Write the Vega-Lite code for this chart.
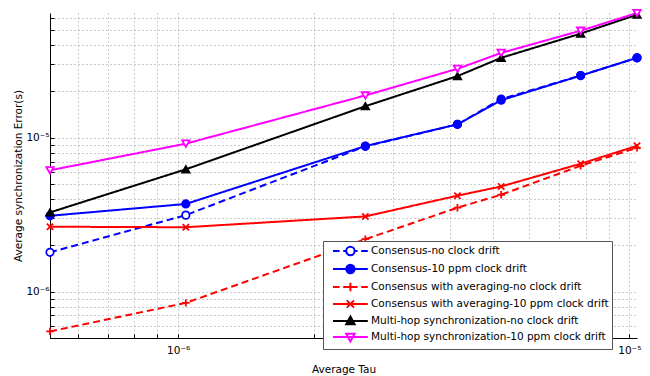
{
  "$schema": "https://vega.github.io/schema/vega-lite/v6.json",
  "width": 587,
  "height": 325,
  "autosize": "none",
  "padding": {"left": 50, "top": 13, "right": 13, "bottom": 38},
  "config": {
    "view": {"stroke": null},
    "font": "DejaVu Sans",
    "axis": {
      "domainColor": "#000000",
      "domainWidth": 1,
      "tickColor": "#000000",
      "tickSize": -4,
      "gridColor": "#999999",
      "gridDash": [1, 3],
      "gridWidth": 1,
      "labelFont": "DejaVu Sans",
      "labelFontSize": 10.5,
      "labelColor": "#000000",
      "titleFont": "DejaVu Sans",
      "titleFontSize": 10.5,
      "titleFontWeight": "normal",
      "titleColor": "#000000"
    },
    "legend": {
      "labelFont": "DejaVu Sans",
      "labelFontSize": 10.5,
      "labelColor": "#000000",
      "labelLimit": 400,
      "symbolSize": 144,
      "symbolStrokeWidth": 2,
      "labelOffset": 31,
      "padding": 3,
      "rowPadding": 0,
      "fillColor": "#ffffff",
      "strokeColor": "#555555",
      "cornerRadius": 0
    }
  },
  "data": {
    "values": [
      {"series": "Consensus-no clock drift", "tau": 5.2e-7, "error": 1.80e-6},
      {"series": "Consensus-no clock drift", "tau": 1.04e-6, "error": 3.14e-6},
      {"series": "Consensus-no clock drift", "tau": 2.6e-6, "error": 8.78e-6},
      {"series": "Consensus-no clock drift", "tau": 4.16e-6, "error": 1.22e-5},
      {"series": "Consensus-no clock drift", "tau": 5.2e-6, "error": 1.78e-5},
      {"series": "Consensus-no clock drift", "tau": 7.8e-6, "error": 2.53e-5},
      {"series": "Consensus-no clock drift", "tau": 1.04e-5, "error": 3.30e-5},
      {"series": "Consensus-10 ppm clock drift", "tau": 5.2e-7, "error": 3.11e-6},
      {"series": "Consensus-10 ppm clock drift", "tau": 1.04e-6, "error": 3.71e-6},
      {"series": "Consensus-10 ppm clock drift", "tau": 2.6e-6, "error": 8.82e-6},
      {"series": "Consensus-10 ppm clock drift", "tau": 4.16e-6, "error": 1.22e-5},
      {"series": "Consensus-10 ppm clock drift", "tau": 5.2e-6, "error": 1.75e-5},
      {"series": "Consensus-10 ppm clock drift", "tau": 7.8e-6, "error": 2.53e-5},
      {"series": "Consensus-10 ppm clock drift", "tau": 1.04e-5, "error": 3.30e-5},
      {"series": "Consensus with averaging-no clock drift", "tau": 5.2e-7, "error": 5.52e-7},
      {"series": "Consensus with averaging-no clock drift", "tau": 1.04e-6, "error": 8.45e-7},
      {"series": "Consensus with averaging-no clock drift", "tau": 2.6e-6, "error": 2.19e-6},
      {"series": "Consensus with averaging-no clock drift", "tau": 4.16e-6, "error": 3.51e-6},
      {"series": "Consensus with averaging-no clock drift", "tau": 5.2e-6, "error": 4.26e-6},
      {"series": "Consensus with averaging-no clock drift", "tau": 7.8e-6, "error": 6.57e-6},
      {"series": "Consensus with averaging-no clock drift", "tau": 1.04e-5, "error": 8.59e-6},
      {"series": "Consensus with averaging-10 ppm clock drift", "tau": 5.2e-7, "error": 2.64e-6},
      {"series": "Consensus with averaging-10 ppm clock drift", "tau": 1.04e-6, "error": 2.62e-6},
      {"series": "Consensus with averaging-10 ppm clock drift", "tau": 2.6e-6, "error": 3.08e-6},
      {"series": "Consensus with averaging-10 ppm clock drift", "tau": 4.16e-6, "error": 4.20e-6},
      {"series": "Consensus with averaging-10 ppm clock drift", "tau": 5.2e-6, "error": 4.82e-6},
      {"series": "Consensus with averaging-10 ppm clock drift", "tau": 7.8e-6, "error": 6.77e-6},
      {"series": "Consensus with averaging-10 ppm clock drift", "tau": 1.04e-5, "error": 8.85e-6},
      {"series": "Multi-hop synchronization-no clock drift", "tau": 5.2e-7, "error": 3.27e-6},
      {"series": "Multi-hop synchronization-no clock drift", "tau": 1.04e-6, "error": 6.23e-6},
      {"series": "Multi-hop synchronization-no clock drift", "tau": 2.6e-6, "error": 1.60e-5},
      {"series": "Multi-hop synchronization-no clock drift", "tau": 4.16e-6, "error": 2.51e-5},
      {"series": "Multi-hop synchronization-no clock drift", "tau": 5.2e-6, "error": 3.30e-5},
      {"series": "Multi-hop synchronization-no clock drift", "tau": 7.8e-6, "error": 4.74e-5},
      {"series": "Multi-hop synchronization-no clock drift", "tau": 1.04e-5, "error": 6.29e-5},
      {"series": "Multi-hop synchronization-10 ppm clock drift", "tau": 5.2e-7, "error": 6.14e-6},
      {"series": "Multi-hop synchronization-10 ppm clock drift", "tau": 1.04e-6, "error": 9.14e-6},
      {"series": "Multi-hop synchronization-10 ppm clock drift", "tau": 2.6e-6, "error": 1.88e-5},
      {"series": "Multi-hop synchronization-10 ppm clock drift", "tau": 4.16e-6, "error": 2.80e-5},
      {"series": "Multi-hop synchronization-10 ppm clock drift", "tau": 5.2e-6, "error": 3.55e-5},
      {"series": "Multi-hop synchronization-10 ppm clock drift", "tau": 7.8e-6, "error": 4.95e-5},
      {"series": "Multi-hop synchronization-10 ppm clock drift", "tau": 1.04e-5, "error": 6.45e-5}
    ]
  },
  "encoding": {
    "x": {
      "field": "tau",
      "type": "quantitative",
      "title": "Average Tau",
      "scale": {"type": "log", "domain": [5.2e-7, 1.04e-5], "nice": false},
      "axis": {
        "values": [6e-7, 7e-7, 8e-7, 9e-7, 1e-6, 2e-6, 3e-6, 4e-6, 5e-6, 6e-6, 7e-6, 8e-6, 9e-6, 1e-5],
        "labelExpr": "datum.value == 1e-6 ? '10⁻⁶' : (datum.value == 1e-5 ? '10⁻⁵' : '')",
        "labelPadding": 11,
        "titlePadding": 9,
        "labelOverlap": false
      }
    },
    "y": {
      "field": "error",
      "type": "quantitative",
      "title": "Average synchronization Error(s)",
      "scale": {"type": "log", "domain": [5e-7, 6.45e-5], "nice": false},
      "axis": {
        "values": [5e-7, 6e-7, 7e-7, 8e-7, 9e-7, 1e-6, 2e-6, 3e-6, 4e-6, 5e-6, 6e-6, 7e-6, 8e-6, 9e-6, 1e-5, 2e-5, 3e-5, 4e-5, 5e-5, 6e-5],
        "labelExpr": "datum.value == 1e-6 ? '10⁻⁶' : (datum.value == 1e-5 ? '10⁻⁵' : '')",
        "labelPadding": 5,
        "titlePadding": 2,
        "labelOverlap": false
      }
    }
  },
  "layer": [
    {
      "mark": {"type": "line", "strokeWidth": 2},
      "encoding": {
        "color": {
          "field": "series", "type": "nominal", "legend": null,
          "scale": {
            "domain": ["Consensus-no clock drift", "Consensus-10 ppm clock drift", "Consensus with averaging-no clock drift", "Consensus with averaging-10 ppm clock drift", "Multi-hop synchronization-no clock drift", "Multi-hop synchronization-10 ppm clock drift"],
            "range": ["#0000ff", "#0000ff", "#ff0000", "#ff0000", "#000000", "#ff00ff"]
          }
        },
        "strokeDash": {
          "field": "series", "type": "nominal", "legend": null,
          "scale": {
            "domain": ["Consensus-no clock drift", "Consensus-10 ppm clock drift", "Consensus with averaging-no clock drift", "Consensus with averaging-10 ppm clock drift", "Multi-hop synchronization-no clock drift", "Multi-hop synchronization-10 ppm clock drift"],
            "range": [[7, 4], [1, 0], [7, 4], [1, 0], [1, 0], [1, 0]]
          }
        }
      }
    },
    {
      "mark": {"type": "point", "opacity": 1, "strokeWidth": 1.8, "size": 55},
      "encoding": {
        "shape": {
          "field": "series", "type": "nominal", "legend": null,
          "scale": {
            "domain": ["Consensus-no clock drift", "Consensus-10 ppm clock drift", "Consensus with averaging-no clock drift", "Consensus with averaging-10 ppm clock drift", "Multi-hop synchronization-no clock drift", "Multi-hop synchronization-10 ppm clock drift"],
            "range": ["circle", "circle", "M-1,0L1,0M0,-1L0,1", "M-0.85,-0.85L0.85,0.85M-0.85,0.85L0.85,-0.85", "triangle-up", "triangle-down"]
          }
        },
        "stroke": {
          "field": "series", "type": "nominal", "legend": null,
          "scale": {
            "domain": ["Consensus-no clock drift", "Consensus-10 ppm clock drift", "Consensus with averaging-no clock drift", "Consensus with averaging-10 ppm clock drift", "Multi-hop synchronization-no clock drift", "Multi-hop synchronization-10 ppm clock drift"],
            "range": ["#0000ff", "#0000ff", "#ff0000", "#ff0000", "#000000", "#ff00ff"]
          }
        },
        "fill": {
          "field": "series", "type": "nominal", "legend": null,
          "scale": {
            "domain": ["Consensus-no clock drift", "Consensus-10 ppm clock drift", "Consensus with averaging-no clock drift", "Consensus with averaging-10 ppm clock drift", "Multi-hop synchronization-no clock drift", "Multi-hop synchronization-10 ppm clock drift"],
            "range": ["#ffffff", "#0000ff", "#ff0000", "#ff0000", "#000000", "#ffffff"]
          }
        }
      }
    },
    {
      "data": {"values": []},
      "mark": {"type": "point", "opacity": 1, "strokeWidth": 2},
      "encoding": {
        "x": null,
        "y": null,
        "shape": {
          "field": "series", "type": "nominal",
          "legend": {"title": null, "orient": "none", "legendX": 273, "legendY": 228},
          "scale": {
            "domain": ["Consensus-no clock drift", "Consensus-10 ppm clock drift", "Consensus with averaging-no clock drift", "Consensus with averaging-10 ppm clock drift", "Multi-hop synchronization-no clock drift", "Multi-hop synchronization-10 ppm clock drift"],
            "range": [
              "M0,0L1.1,0M1.7,0L2.2,0M3.6,0L4.1,0M4.7,0L5.8,0M2.2,0A0.7,0.7 0 1,1 3.6,0A0.7,0.7 0 1,1 2.2,0Z",
              "M0,0L5.8,0M2.2,0A0.7,0.7 0 1,1 3.6,0A0.7,0.7 0 1,1 2.2,0Z",
              "M0,0L1.1,0M1.7,0L4.1,0M4.7,0L5.8,0M2.9,-0.7L2.9,0.7",
              "M0,0L5.8,0M2.3,-0.6L3.5,0.6M2.3,0.6L3.5,-0.6",
              "M0,0L5.8,0M2.9,-0.75L3.6,0.55L2.2,0.55Z",
              "M0,0L5.8,0M2.9,0.75L3.6,-0.55L2.2,-0.55Z"
            ]
          }
        },
        "stroke": {
          "field": "series", "type": "nominal",
          "legend": {"title": null, "orient": "none", "legendX": 273, "legendY": 228},
          "scale": {
            "domain": ["Consensus-no clock drift", "Consensus-10 ppm clock drift", "Consensus with averaging-no clock drift", "Consensus with averaging-10 ppm clock drift", "Multi-hop synchronization-no clock drift", "Multi-hop synchronization-10 ppm clock drift"],
            "range": ["#0000ff", "#0000ff", "#ff0000", "#ff0000", "#000000", "#ff00ff"]
          }
        },
        "fill": {
          "field": "series", "type": "nominal",
          "legend": {"title": null, "orient": "none", "legendX": 273, "legendY": 228},
          "scale": {
            "domain": ["Consensus-no clock drift", "Consensus-10 ppm clock drift", "Consensus with averaging-no clock drift", "Consensus with averaging-10 ppm clock drift", "Multi-hop synchronization-no clock drift", "Multi-hop synchronization-10 ppm clock drift"],
            "range": ["#ffffff", "#0000ff", "#ff0000", "#ff0000", "#000000", "#ffffff"]
          }
        }
      }
    }
  ],
  "resolve": {
    "scale": {"shape": "independent", "stroke": "independent", "fill": "independent"},
    "legend": {"shape": "independent", "stroke": "independent", "fill": "independent"}
  }
}
